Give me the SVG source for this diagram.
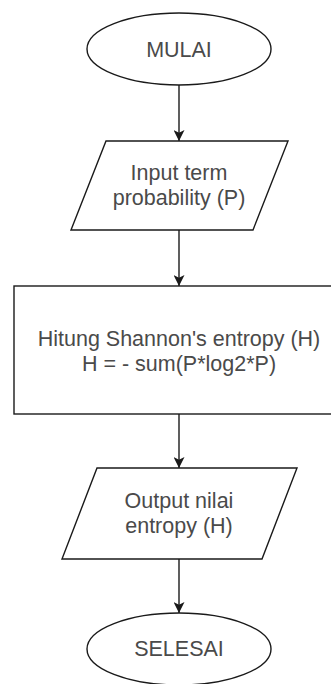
<svg xmlns="http://www.w3.org/2000/svg" width="331" height="684" viewBox="0 0 331 684">
  <style>
    .shape { fill: #ffffff; stroke: #1a1a1a; stroke-width: 1.4; }
    .label { font-family: "Liberation Sans", Arial, sans-serif; font-size: 21.5px; fill: #4a4a4a; text-anchor: middle; }
    .edge { fill: none; stroke: #1a1a1a; stroke-width: 1.4; }
  </style>
  <defs>
    <marker id="arrow" viewBox="0 0 12 12" refX="12" refY="6" markerWidth="11" markerHeight="11" markerUnits="userSpaceOnUse" orient="auto">
      <path d="M0,0 L12,6 L0,12 L3,6 Z" fill="#1a1a1a"/>
    </marker>
  </defs>
  <rect width="331" height="684" fill="#ffffff"/>

  <!-- connectors -->
  <g id="connectors">
    <line class="edge" x1="179" y1="85" x2="179" y2="141" marker-end="url(#arrow)"/>
    <line class="edge" x1="179" y1="230" x2="179" y2="286" marker-end="url(#arrow)"/>
    <line class="edge" x1="179" y1="414" x2="179" y2="468" marker-end="url(#arrow)"/>
    <line class="edge" x1="179" y1="559" x2="179" y2="613" marker-end="url(#arrow)"/>
  </g>

  <!-- start terminator -->
  <g id="start">
    <ellipse class="shape" cx="179" cy="49" rx="92" ry="36"/>
    <text class="label" x="179" y="57">MULAI</text>
  </g>

  <!-- input -->
  <g id="input">
    <polygon class="shape" points="106,141 288,141 253,230 71,230"/>
    <text class="label" x="179" y="180">Input term</text>
    <text class="label" x="179" y="205">probability (P)</text>
  </g>

  <!-- process -->
  <g id="process">
    <rect class="shape" x="14" y="286" width="330" height="128"/>
    <text class="label" x="179" y="346">Hitung Shannon's entropy (H)</text>
    <text class="label" x="179" y="371">H = - sum(P*log2*P)</text>
  </g>

  <!-- output -->
  <g id="output">
    <polygon class="shape" points="97,468 297,468 262,559 62,559"/>
    <text class="label" x="179" y="508">Output nilai</text>
    <text class="label" x="179" y="533">entropy (H)</text>
  </g>

  <!-- end terminator -->
  <g id="end">
    <ellipse class="shape" cx="179" cy="649" rx="92" ry="36"/>
    <text class="label" x="179" y="656">SELESAI</text>
  </g>
</svg>
